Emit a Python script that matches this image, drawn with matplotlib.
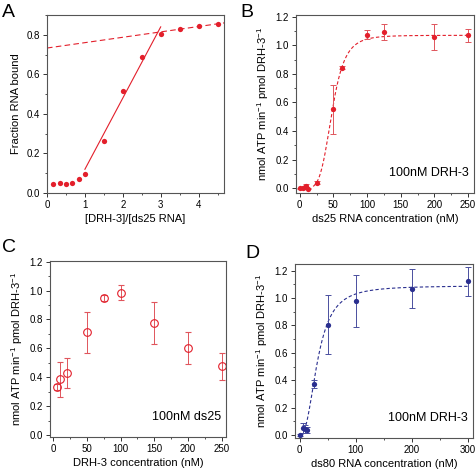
import numpy as np
import matplotlib
matplotlib.use("Agg")
import matplotlib.pyplot as plt
from matplotlib.ticker import MultipleLocator

plt.rcParams['font.family'] = ['Liberation Sans', 'DejaVu Sans']
plt.rcParams['mathtext.fontset'] = 'custom'
plt.rcParams['mathtext.rm'] = 'Liberation Sans'

RED = '#e31f2b'
BLUE = '#2a2f8f'

# panel A: binding titration
a_x = [0.167, 0.333, 0.5, 0.667, 0.833, 1.0, 1.5, 2.0, 2.5, 3.0, 3.5, 4.0, 4.5]
a_y = [0.047, 0.05, 0.047, 0.052, 0.073, 0.097, 0.265, 0.515, 0.69, 0.805, 0.828, 0.842, 0.855]
a_fit1_x = [1.0, 3.0]
a_fit1_y = [0.12, 0.84]
a_fit2_x = [0.0, 4.67]
a_fit2_y = [0.733, 0.86]

# panel B: ds25 RNA titration
b_x = [0, 5, 7.5, 10, 12.5, 25, 50, 62.5, 100, 125, 200, 250]
b_y = [0.0, 0.005, 0.012, 0.017, -0.002, 0.04, 0.553, 0.844, 1.075, 1.095, 1.056, 1.07]
b_err = [0.005, 0.005, 0.005, 0.01, 0.005, 0.01, 0.17, 0.01, 0.03, 0.055, 0.09, 0.045]
b_vmax, b_k, b_n = 1.07, 48.0, 5.0

# panel C: DRH-3 titration
c_x = [5, 10, 20, 50, 75, 100, 150, 200, 250]
c_y = [0.33, 0.385, 0.43, 0.71, 0.95, 0.985, 0.775, 0.605, 0.475]
c_err = [0.02, 0.12, 0.105, 0.143, 0.02, 0.053, 0.143, 0.11, 0.093]

# panel D: ds80 RNA titration
d_x = [0, 5, 10, 12.5, 25, 50, 100, 200, 300]
d_y = [0.0, 0.05, 0.045, 0.035, 0.375, 0.806, 0.978, 1.068, 1.122]
d_err = [0.005, 0.035, 0.03, 0.02, 0.03, 0.215, 0.19, 0.142, 0.108]
d_vmax, d_k, d_n = 1.09, 32.0, 2.5

ATP_LABEL = r'nmol ATP min$^{\mathregular{-1}}$ pmol DRH-3$^{\mathregular{-1}}$'

W, H = 477, 473
fig = plt.figure(figsize=(W / 100, H / 100), dpi=100)


def make_ax(l, t, r, b):
    ax = fig.add_axes([l / W, 1 - b / H, (r - l) / W, (b - t) / H])
    for s in ax.spines.values():
        s.set_linewidth(0.8)
        s.set_color('#555555')
    ax.tick_params(which='major', direction='out', length=3, width=0.7,
                   labelsize=7, pad=2, colors='#333333', labelcolor='black')
    ax.tick_params(which='minor', direction='out', length=1.5, width=0.6, colors='#333333')
    return ax


def hill(x, vmax, k, n):
    return vmax * x ** n / (k ** n + x ** n)


# A
ax = make_ax(47, 15, 224, 193)
ax.plot(a_x, a_y, 'o', color=RED, ms=3.8, mec='none')
ax.plot(a_fit1_x, a_fit1_y, '-', color=RED, lw=0.8)
ax.plot(a_fit2_x, a_fit2_y, '--', color=RED, lw=0.8, dashes=(5, 3))
ax.set_xlim(0, 4.67)
ax.set_ylim(0, 0.9)
ax.xaxis.set_major_locator(MultipleLocator(1))
ax.xaxis.set_minor_locator(MultipleLocator(0.5))
ax.yaxis.set_major_locator(MultipleLocator(0.2))
ax.yaxis.set_minor_locator(MultipleLocator(0.1))
ax.yaxis.set_major_formatter(lambda v, p: f'{v:.1f}')
ax.set_xlabel('[DRH-3]/[ds25 RNA]', fontsize=8, labelpad=3)
ax.set_ylabel('Fraction RNA bound', fontsize=8, labelpad=4)
fig.text(2 / W, 1 - 17 / H, 'A', fontsize=14)

# B
ax = make_ax(296, 15, 474, 193)
bx = np.linspace(20, 250, 300)
ax.plot(bx, hill(bx, b_vmax, b_k, b_n), '--', color=RED, lw=0.8, dashes=(3, 2))
ax.errorbar(b_x, b_y, yerr=b_err, fmt='o', color=RED, ms=3.8, mec='none',
            elinewidth=0.7, capsize=2, capthick=0.7, ecolor='#e0555c')
ax.set_xlim(-5.5, 258.9)
ax.set_ylim(-0.033, 1.212)
ax.xaxis.set_major_locator(MultipleLocator(50))
ax.xaxis.set_minor_locator(MultipleLocator(25))
ax.yaxis.set_major_locator(MultipleLocator(0.2))
ax.yaxis.set_minor_locator(MultipleLocator(0.1))
ax.yaxis.set_major_formatter(lambda v, p: f'{v:.1f}')
ax.set_xlabel('ds25 RNA concentration (nM)', fontsize=8, labelpad=3)
ax.set_ylabel(ATP_LABEL, fontsize=8, labelpad=3)
ax.text(0.97, 0.08, '100nM DRH-3', transform=ax.transAxes, ha='right', va='bottom', fontsize=9)
fig.text(240 / W, 1 - 17 / H, 'B', fontsize=14)

# C
ax = make_ax(50, 261, 226, 437)
ax.errorbar(c_x, c_y, yerr=c_err, fmt='o', color=RED, ms=5.5, mfc='none', mew=0.8,
            elinewidth=0.7, capsize=2, capthick=0.7, ecolor='#e0555c')
ax.set_xlim(-4.9, 256.4)
ax.set_ylim(-0.014, 1.205)
ax.xaxis.set_major_locator(MultipleLocator(50))
ax.xaxis.set_minor_locator(MultipleLocator(25))
ax.yaxis.set_major_locator(MultipleLocator(0.2))
ax.yaxis.set_minor_locator(MultipleLocator(0.1))
ax.yaxis.set_major_formatter(lambda v, p: f'{v:.1f}')
ax.set_xlabel('DRH-3 concentration (nM)', fontsize=8, labelpad=3)
ax.set_ylabel(ATP_LABEL, fontsize=8, labelpad=3)
ax.text(0.97, 0.08, '100nM ds25', transform=ax.transAxes, ha='right', va='bottom', fontsize=9)
fig.text(2 / W, 1 - 252 / H, 'C', fontsize=14)

# D
ax = make_ax(295, 264, 473, 438)
dx = np.linspace(8, 300, 300)
ax.plot(dx, hill(dx, d_vmax, d_k, d_n), '--', color=BLUE, lw=0.8, dashes=(3, 2))
ax.errorbar(d_x, d_y, yerr=d_err, fmt='o', color=BLUE, ms=3.8, mec='none',
            elinewidth=0.7, capsize=2, capthick=0.7, ecolor='#4a4f9f')
ax.set_xlim(-8.4, 308.9)
ax.set_ylim(-0.022, 1.249)
ax.xaxis.set_major_locator(MultipleLocator(100))
ax.xaxis.set_minor_locator(MultipleLocator(50))
ax.yaxis.set_major_locator(MultipleLocator(0.2))
ax.yaxis.set_minor_locator(MultipleLocator(0.1))
ax.yaxis.set_major_formatter(lambda v, p: f'{v:.1f}')
ax.set_xlabel('ds80 RNA concentration (nM)', fontsize=8, labelpad=3)
ax.set_ylabel(ATP_LABEL, fontsize=8, labelpad=3)
ax.text(0.97, 0.08, '100nM DRH-3', transform=ax.transAxes, ha='right', va='bottom', fontsize=9)
fig.text(245 / W, 1 - 258 / H, 'D', fontsize=14)

fig.savefig('out.png', dpi=100)
